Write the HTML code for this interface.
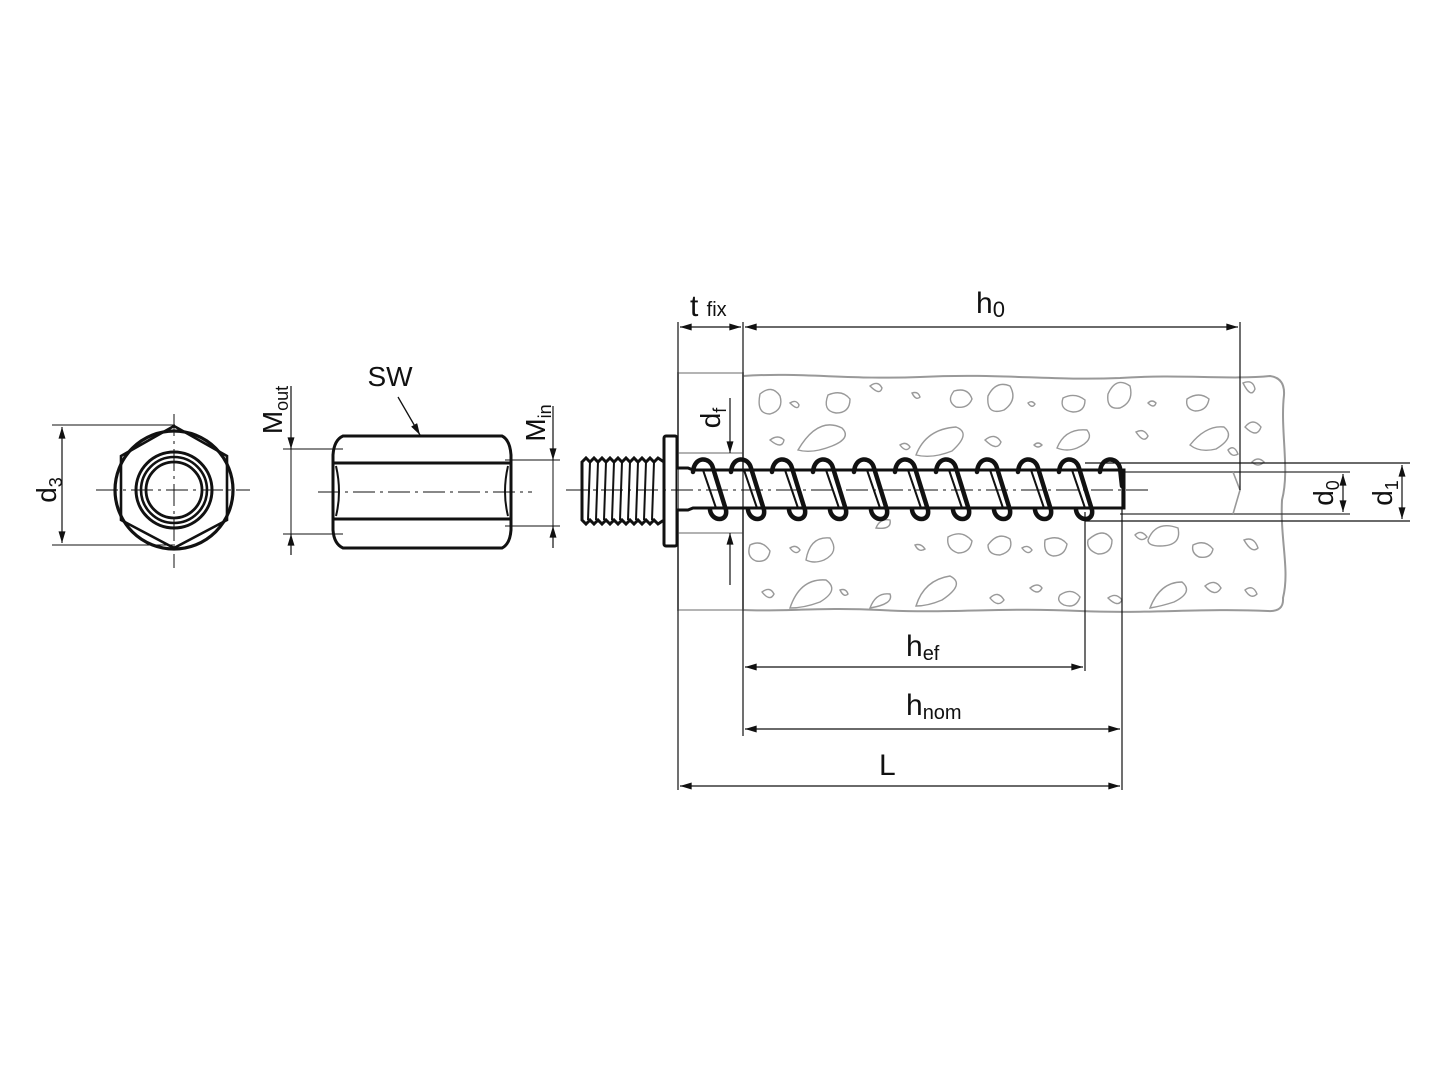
<!DOCTYPE html>
<html><head><meta charset="utf-8"><style>
html,body{margin:0;padding:0;background:#fff;width:1440px;height:1080px;overflow:hidden}
text{font-family:"Liberation Sans",sans-serif;fill:#111}
</style></head><body>
<svg width="1440" height="1080" viewBox="0 0 1440 1080" xmlns="http://www.w3.org/2000/svg">
<defs>
<marker id="a" viewBox="0 0 10 6" refX="10" refY="3" markerWidth="14" markerHeight="7" markerUnits="userSpaceOnUse" orient="auto-start-reverse"><path d="M0,0L10,3L0,6z" fill="#111"/></marker>
</defs>

<!-- ===== Left end view ===== -->
<g stroke="#111" fill="none">
<line x1="52" y1="425" x2="175" y2="425" stroke-width="1"/>
<line x1="52" y1="545" x2="175" y2="545" stroke-width="1"/>
<line x1="62" y1="427" x2="62" y2="543" stroke-width="1.2" marker-start="url(#a)" marker-end="url(#a)"/>
<circle cx="174" cy="490" r="59" stroke-width="3.2"/>
<polygon points="174,426 227,456 227,520 174,548 121,520 121,456" stroke-width="2.6"/>
<circle cx="174" cy="490" r="38" stroke-width="3"/>
<circle cx="174" cy="490" r="33" stroke-width="2.6"/>
<circle cx="174" cy="490" r="28" stroke-width="2.8"/>
<line x1="96" y1="490" x2="250" y2="490" stroke-width="1" stroke-dasharray="22,5,3,5"/>
<line x1="174" y1="414" x2="174" y2="568" stroke-width="1" stroke-dasharray="22,5,3,5"/>
</g>
<text transform="translate(56,490) rotate(-90)" font-size="28" text-anchor="middle">d<tspan font-size="18" dy="6">3</tspan></text>

<!-- ===== Coupling nut side view ===== -->
<g stroke="#111" fill="none">
<path d="M343,436 H502 Q510,440 511,455 V530 Q510,544 502,548 H343 Q334,544 333,530 V455 Q334,440 343,436 Z" stroke-width="3"/>
<path d="M333,463 H511 M333,519 H511" stroke-width="3"/>
<path d="M336,466 Q342,492 336,516 M508,466 Q502,492 508,516" stroke-width="2"/>
<line x1="318" y1="492" x2="532" y2="492" stroke-width="1" stroke-dasharray="22,5,3,5"/>
<line x1="283" y1="449" x2="343" y2="449" stroke-width="1"/>
<line x1="283" y1="534" x2="343" y2="534" stroke-width="1"/>
<line x1="291" y1="386" x2="291" y2="449" stroke-width="1.2" marker-end="url(#a)"/>
<line x1="291" y1="555" x2="291" y2="534" stroke-width="1.2" marker-end="url(#a)"/>
<line x1="291" y1="449" x2="291" y2="534" stroke-width="1"/>
<line x1="505" y1="460" x2="560" y2="460" stroke-width="1"/>
<line x1="505" y1="526" x2="560" y2="526" stroke-width="1"/>
<line x1="553" y1="406" x2="553" y2="460" stroke-width="1.2" marker-end="url(#a)"/>
<line x1="553" y1="548" x2="553" y2="526" stroke-width="1.2" marker-end="url(#a)"/>
<line x1="553" y1="460" x2="553" y2="526" stroke-width="1"/>
<line x1="398" y1="397" x2="420" y2="435" stroke-width="1.3" marker-end="url(#a)"/>
</g>
<text x="390" y="386" font-size="28" text-anchor="middle">SW</text>
<text transform="translate(282,410) rotate(-90)" font-size="28" text-anchor="middle">M<tspan font-size="18" dy="6">out</tspan></text>
<text transform="translate(545,423) rotate(-90)" font-size="28" text-anchor="middle">M<tspan font-size="18" dy="6">in</tspan></text>

<!-- ===== Concrete ===== -->
<g stroke="#999" fill="none" stroke-width="2">
<path d="M743,376 C800,372 850,380 920,377 C1000,373 1050,381 1120,378 C1180,374 1230,380 1270,376 Q1285,378 1284,395 C1280,430 1290,470 1282,500 C1280,540 1290,570 1283,598 Q1284,612 1268,611 C1200,608 1150,614 1080,611 C1000,607 950,614 880,610 C820,607 780,612 743,610"/>
<path d="M678,373 H743 V610 H678 Z" stroke="#aaa" stroke-width="1.8"/>
<line x1="678" y1="453" x2="743" y2="453" stroke-width="1.5"/>
<line x1="678" y1="533" x2="743" y2="533" stroke-width="1.5"/>
</g>
<g stroke="#999" fill="#fff" stroke-width="1.4">
<path d="M760,394 q12,-10 20,2 q4,14 -10,18 q-14,0 -10,-20z"/>
<path d="M790,403 q6,-4 9,2 q-1,6 -9,-2z"/>
<path d="M828,395 q14,-6 22,4 q0,14 -14,14 q-14,-2 -8,-18z"/>
<path d="M870,386 q8,-6 12,2 q-2,8 -12,-2z"/>
<path d="M912,393 q6,-2 8,4 q-4,4 -8,-4z"/>
<path d="M954,391 q14,-4 18,8 q-4,10 -16,8 q-10,-6 -2,-16z"/>
<path d="M988,396 q8,-16 22,-10 q8,14 -6,24 q-18,6 -16,-14z"/>
<path d="M1028,403 q4,-3 7,1 q-3,5 -7,-1z"/>
<path d="M1063,398 q12,-6 22,2 q0,12 -12,12 q-14,-2 -10,-14z"/>
<path d="M1108,394 q8,-18 22,-8 q4,16 -10,22 q-14,2 -12,-14z"/>
<path d="M1148,403 q4,-4 8,0 q-2,6 -8,0z"/>
<path d="M1187,399 q12,-8 22,0 q-2,12 -14,12 q-10,-2 -8,-12z"/>
<path d="M1243,383 q10,-4 12,6 q-4,10 -12,-6z"/>
<path d="M770,440 q8,-6 14,0 q-2,10 -14,0z"/>
<path d="M798,450 q20,-34 44,-22 q10,10 -10,18 q-20,8 -34,4z"/>
<path d="M900,445 q6,-4 10,2 q-4,6 -10,-2z"/>
<path d="M916,455 q10,-26 40,-28 q16,6 -4,24 q-20,8 -36,4z"/>
<path d="M985,440 q10,-8 16,2 q-4,10 -16,-2z"/>
<path d="M1034,445 q4,-4 8,0 q-4,4 -8,0z"/>
<path d="M1057,448 q8,-20 30,-18 q8,10 -10,18 q-10,4 -20,0z"/>
<path d="M1136,432 q8,-4 12,4 q-4,8 -12,-4z"/>
<path d="M1190,445 q16,-20 34,-18 q12,10 -8,22 q-16,4 -26,-4z"/>
<path d="M1228,450 q6,-6 10,4 q-6,4 -10,-4z"/>
<path d="M1245,427 q8,-10 16,0 q-4,12 -16,0z"/>
<path d="M1252,462 q6,-6 12,0 q-6,6 -12,0z"/>
<path d="M750,545 q12,-6 20,6 q-2,12 -14,10 q-10,-4 -6,-16z"/>
<path d="M790,548 q6,-4 10,2 q-4,6 -10,-2z"/>
<path d="M806,560 q4,-24 24,-22 q10,14 -6,22 q-10,4 -18,0z"/>
<path d="M876,528 q4,-10 14,-8 q2,10 -14,8z"/>
<path d="M915,545 q6,-2 10,4 q-6,4 -10,-4z"/>
<path d="M948,537 q14,-8 24,4 q-2,12 -14,12 q-12,-4 -10,-16z"/>
<path d="M988,545 q10,-14 22,-6 q4,12 -10,16 q-12,0 -12,-10z"/>
<path d="M1022,548 q6,-4 10,2 q-4,6 -10,-2z"/>
<path d="M1045,540 q14,-6 22,4 q-2,12 -14,12 q-10,-2 -8,-16z"/>
<path d="M1088,540 q16,-14 24,0 q0,14 -14,14 q-12,-4 -10,-14z"/>
<path d="M1135,535 q6,-6 12,2 q-6,6 -12,-2z"/>
<path d="M1148,540 q8,-20 30,-12 q4,18 -18,18 q-12,0 -12,-6z"/>
<path d="M1193,545 q12,-6 20,4 q-2,10 -14,8 q-8,-4 -6,-12z"/>
<path d="M1244,540 q10,-4 14,8 q-6,6 -14,-8z"/>
<path d="M762,592 q8,-6 12,2 q-4,8 -12,-2z"/>
<path d="M790,608 q10,-30 36,-28 q14,10 -6,22 q-16,6 -30,6z"/>
<path d="M840,590 q6,-2 8,4 q-4,4 -8,-4z"/>
<path d="M870,608 q6,-16 20,-14 q4,10 -20,14z"/>
<path d="M916,606 q8,-26 34,-30 q16,8 -8,24 q-14,6 -26,6z"/>
<path d="M990,598 q8,-8 14,2 q-6,8 -14,-2z"/>
<path d="M1030,588 q8,-6 12,0 q-4,8 -12,0z"/>
<path d="M1060,595 q12,-8 20,2 q-4,12 -16,8 q-8,-4 -4,-10z"/>
<path d="M1108,598 q8,-6 14,2 q-4,8 -14,-2z"/>
<path d="M1150,608 q10,-26 32,-26 q12,10 -8,20 q-12,4 -24,6z"/>
<path d="M1205,586 q10,-8 16,2 q-6,10 -16,-2z"/>
<path d="M1245,590 q8,-6 12,4 q-6,6 -12,-4z"/>
</g>
<!-- drill hole -->
<rect x="1085" y="463" width="150" height="58" fill="#fff"/>
<g stroke="#111" fill="none" stroke-width="1.2">
<line x1="1085" y1="463" x2="1410" y2="463"/>
<line x1="1085" y1="521" x2="1410" y2="521"/>
<line x1="1120" y1="472" x2="1350" y2="472" stroke="#333"/>
<line x1="1120" y1="514" x2="1350" y2="514" stroke="#333"/>
<path d="M1233,472 L1240,490 L1233,514" stroke="#999" stroke-width="1.6"/>
<line x1="1343" y1="474" x2="1343" y2="512" marker-start="url(#a)" marker-end="url(#a)"/>
<line x1="1402" y1="465" x2="1402" y2="519" marker-start="url(#a)" marker-end="url(#a)"/>
</g>
<text transform="translate(1333,493) rotate(-90)" font-size="28" text-anchor="middle">d<tspan font-size="18" dy="6">0</tspan></text>
<text transform="translate(1392,493) rotate(-90)" font-size="28" text-anchor="middle">d<tspan font-size="18" dy="6">1</tspan></text>

<!-- ===== Screw ===== -->
<g stroke="#111" fill="#fff">
<path d="M582,462 L586,458 L590,462 L594,458 L598,462 L602,458 L606,462 L610,458 L614,462 L618,458 L622,462 L626,458 L630,462 L634,458 L638,462 L642,458 L646,462 L650,458 L654,462 L658,458 L664,462 V520 L658,524 L654,520 L650,524 L646,520 L642,524 L638,520 L634,524 L630,520 L626,524 L622,520 L618,524 L614,520 L610,524 L606,520 L602,524 L598,520 L594,524 L590,520 L586,524 L582,520 Z" stroke-width="3"/>
<path d="M590,462 L588,520 M598,462 L596,520 M606,462 L604,520 M614,462 L612,520 M622,462 L620,520 M630,462 L628,520 M638,462 L636,520 M646,462 L644,520 M654,462 L652,520" stroke-width="2" fill="none"/>
<rect x="664" y="436" width="13" height="110" rx="2" stroke-width="3"/>
<path d="M677,468 H688 L693,470 H1124 V508 H693 L688,510 H677" stroke-width="3"/>
</g>
<g stroke="#111" fill="none" stroke-width="4.5" stroke-linecap="round">
<path d="M693,472 C694,456 710,456 713,468 L726,510 C728,522 712,522 710,510"/>
<path d="M731,472 C732,456 748,456 751,468 L764,510 C766,522 750,522 748,510"/>
<path d="M772,472 C773,456 789,456 792,468 L805,510 C807,522 791,522 789,510"/>
<path d="M813,472 C814,456 830,456 833,468 L846,510 C848,522 832,522 830,510"/>
<path d="M854,472 C855,456 871,456 874,468 L887,510 C889,522 873,522 871,510"/>
<path d="M895,472 C896,456 912,456 915,468 L928,510 C930,522 914,522 912,510"/>
<path d="M936,472 C937,456 953,456 956,468 L969,510 C971,522 955,522 953,510"/>
<path d="M977,472 C978,456 994,456 997,468 L1010,510 C1012,522 996,522 994,510"/>
<path d="M1018,472 C1019,456 1035,456 1038,468 L1051,510 C1053,522 1037,522 1035,510"/>
<path d="M1059,472 C1060,456 1076,456 1079,468 L1092,510 C1094,522 1078,522 1076,510"/>
<path d="M1100,472 C1101,456 1117,456 1120,468 L1122,486"/>
</g>
<g stroke="#111" fill="none" stroke-width="2">
<path d="M703,470 L716,508 M744,470 L757,508 M785,470 L798,508 M826,470 L839,508 M867,470 L880,508 M908,470 L921,508 M949,470 L962,508 M990,470 L1003,508 M1031,470 L1044,508 M1072,470 L1085,508"/>
</g>
<line x1="566" y1="490" x2="1150" y2="490" stroke="#111" stroke-width="1" stroke-dasharray="22,5,3,5"/>

<!-- ===== Dimensions ===== -->
<g stroke="#111" fill="none" stroke-width="1.2">
<line x1="678" y1="322" x2="678" y2="790"/>
<line x1="743" y1="322" x2="743" y2="736"/>
<line x1="1085" y1="512" x2="1085" y2="671"/>
<line x1="1122" y1="480" x2="1122" y2="790"/>
<line x1="1240" y1="322" x2="1240" y2="490"/>
<line x1="680" y1="327" x2="741" y2="327" marker-start="url(#a)" marker-end="url(#a)"/>
<line x1="745" y1="327" x2="1238" y2="327" marker-start="url(#a)" marker-end="url(#a)"/>
<line x1="745" y1="667" x2="1083" y2="667" marker-start="url(#a)" marker-end="url(#a)"/>
<line x1="745" y1="729" x2="1120" y2="729" marker-start="url(#a)" marker-end="url(#a)"/>
<line x1="680" y1="786" x2="1120" y2="786" marker-start="url(#a)" marker-end="url(#a)"/>
<line x1="730" y1="398" x2="730" y2="453" marker-end="url(#a)"/>
<line x1="730" y1="585" x2="730" y2="533" marker-end="url(#a)"/>
</g>
<text x="690" y="316" font-size="30">t <tspan font-size="20">fix</tspan></text>
<text x="976" y="313" font-size="30">h<tspan font-size="22" dy="4">0</tspan></text>
<text x="906" y="656" font-size="30">h<tspan font-size="20" dy="4">ef</tspan></text>
<text x="906" y="715" font-size="30">h<tspan font-size="20" dy="4">nom</tspan></text>
<text x="879" y="775" font-size="30">L</text>
<text transform="translate(720,418) rotate(-90)" font-size="28" text-anchor="middle">d<tspan font-size="18" dy="6">f</tspan></text>
</svg>
</body></html>
